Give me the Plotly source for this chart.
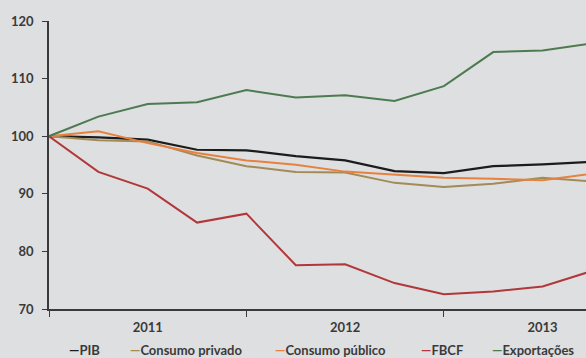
import plotly.graph_objects as go

# Quarterly indices, 2011 Q1 = 100
quarters = list(range(12))
pib = [100, 99.8, 99.4, 97.65, 97.55, 96.55, 95.8, 93.95, 93.6, 94.8, 95.1, 95.55]
consumo_privado = [100, 99.3, 99.1, 96.65, 94.8, 93.8, 93.7, 91.9, 91.2, 91.75, 92.8, 92.15]
consumo_publico = [100, 100.85, 98.8, 97.1, 95.8, 95.05, 93.85, 93.3, 92.8, 92.6, 92.35, 93.5]
fbcf = [100, 93.8, 90.9, 85.0, 86.55, 77.6, 77.75, 74.5, 72.55, 73.05, 73.9, 76.6]
exportacoes = [100, 103.4, 105.6, 105.9, 108.0, 106.7, 107.1, 106.1, 108.7, 114.6, 114.9, 116.1]

year_pos = [2, 6, 10]
year_labels = ["2011", "2012", "2013"]

series = [
    ("PIB", pib, "#1c1c1c", 2.2),
    ("Consumo privado", consumo_privado, "#A38B57", 2),
    ("Consumo público", consumo_publico, "#E8803E", 2),
    ("FBCF", fbcf, "#B2373A", 2),
    ("Exportações", exportacoes, "#4D7B51", 2),
]

bg = "#DEDFE0"
text_color = "#3a3a3a"
font_family = "Lato"

fig = go.Figure()
for name, vals, color, width in series:
    fig.add_trace(go.Scatter(
        x=quarters, y=vals, mode="lines", name=name,
        line=dict(color=color, width=width),
        showlegend=False, cliponaxis=True,
    ))

# Legend row as text entries with a coloured dash before each name
legend_x = [0.0335, 0.1471, 0.4171, 0.689, 0.8212]
for (name, _, color, _), lx in zip(series, legend_x):
    fig.add_annotation(
        x=lx, y=-0.1425, xref="paper", yref="paper",
        xanchor="left", yanchor="middle", showarrow=False,
        text=f"<span style='color:{color}'>—</span>{name}",
        font=dict(family=font_family, size=13, color=text_color, weight="bold"),
    )

fig.update_layout(
    width=586, height=358,
    margin=dict(l=49, r=0, t=21, b=49),
    paper_bgcolor=bg, plot_bgcolor=bg,
    font=dict(family=font_family, size=13, color=text_color, weight="bold"),
)
fig.update_xaxes(
    range=[0, 10.88], showgrid=False, zeroline=False,
    showline=True, linecolor="#3a3a3a", linewidth=1.5,
    tickmode="array", tickvals=year_pos, ticktext=year_labels, ticks="",
    ticklabelstandoff=6,
    minor=dict(tick0=0, dtick=4, ticks="outside", ticklen=6, tickwidth=1.2,
               tickcolor="#3a3a3a", showgrid=False),
    tickfont=dict(family=font_family, size=13, color=text_color, weight="bold"),
)
fig.update_yaxes(
    range=[70, 120], dtick=10, showgrid=False, zeroline=False,
    showline=True, linecolor="#3a3a3a", linewidth=1.5,
    ticks="outside", ticklen=5, tickwidth=1.2, tickcolor="#3a3a3a",
    ticklabelstandoff=6,
    tickfont=dict(family=font_family, size=13, color=text_color, weight="bold"),
)

fig.write_html("out.html")
